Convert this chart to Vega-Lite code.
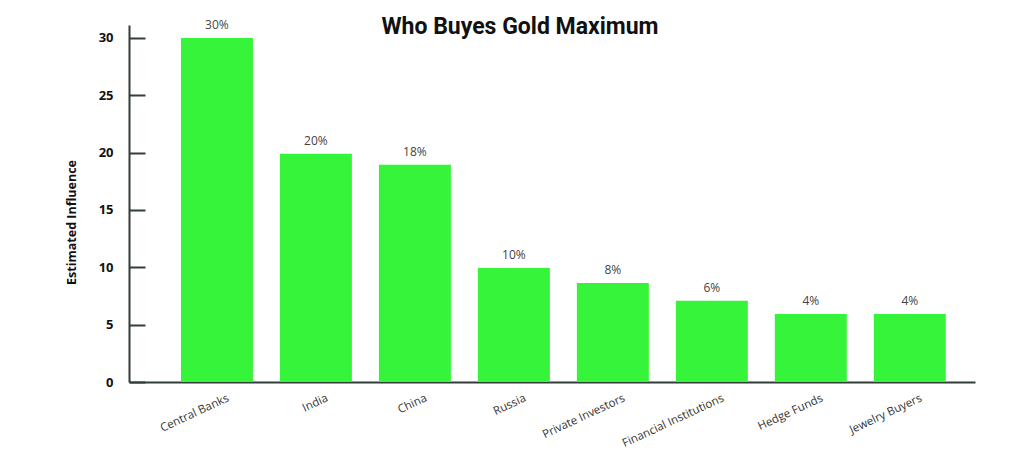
{
  "$schema": "https://vega.github.io/schema/vega-lite/v6.json",
  "width": 846,
  "height": 357,
  "autosize": "none",
  "padding": {"left": 129, "top": 25, "right": 49, "bottom": 93},
  "background": "white",
  "title": {
    "text": "Who Buyes Gold Maximum",
    "font": "Roboto",
    "fontSize": 23,
    "fontWeight": "bold",
    "color": "#111111",
    "anchor": "middle",
    "frame": "group",
    "dx": -32,
    "offset": -20
  },
  "data": {
    "values": [
      {"buyer": "Central Banks", "influence": 30, "label": "30%"},
      {"buyer": "India", "influence": 19.9, "label": "20%"},
      {"buyer": "China", "influence": 18.95, "label": "18%"},
      {"buyer": "Russia", "influence": 9.94, "label": "10%"},
      {"buyer": "Private Investors", "influence": 8.63, "label": "8%"},
      {"buyer": "Financial Institutions", "influence": 7.09, "label": "6%"},
      {"buyer": "Hedge Funds", "influence": 5.93, "label": "4%"},
      {"buyer": "Jewelry Buyers", "influence": 5.93, "label": "4%"}
    ]
  },
  "encoding": {
    "x": {
      "field": "buyer",
      "type": "nominal",
      "sort": null,
      "scale": {"paddingInner": 0.273, "paddingOuter": 0.41, "align": 0.64},
      "axis": {
        "title": null,
        "labelAngle": -25,
        "labelFont": "Open Sans",
        "labelFontSize": 11.5,
        "labelColor": "#333333",
        "labelPadding": 10,
        "labelOffset": 9,
        "ticks": false,
        "domainColor": "#333d3a",
        "domainWidth": 2
      }
    },
    "y": {
      "field": "influence",
      "type": "quantitative",
      "scale": {"domain": [0, 31.13], "nice": false},
      "axis": {
        "title": "Estimated Influence",
        "titleFont": "Open Sans",
        "titleFontSize": 12.5,
        "titleFontWeight": "bold",
        "titleColor": "#111111",
        "titleY": 197,
        "titlePadding": 20,
        "values": [0, 5, 10, 15, 20, 25, 30],
        "grid": false,
        "tickSize": -16,
        "tickWidth": 2,
        "tickColor": "#333d3a",
        "domainColor": "#333d3a",
        "domainWidth": 2,
        "labelPadding": 32,
        "labelFont": "Open Sans",
        "labelFontSize": 13,
        "labelFontWeight": "bold",
        "labelColor": "#111111"
      }
    }
  },
  "layer": [
    {"mark": {"type": "bar", "color": "#36f43a"}},
    {
      "mark": {"type": "text", "baseline": "bottom", "dy": -6, "font": "Open Sans", "fontSize": 12, "color": "#444444"},
      "encoding": {"text": {"field": "label"}}
    }
  ],
  "config": {"view": {"stroke": null}}
}
